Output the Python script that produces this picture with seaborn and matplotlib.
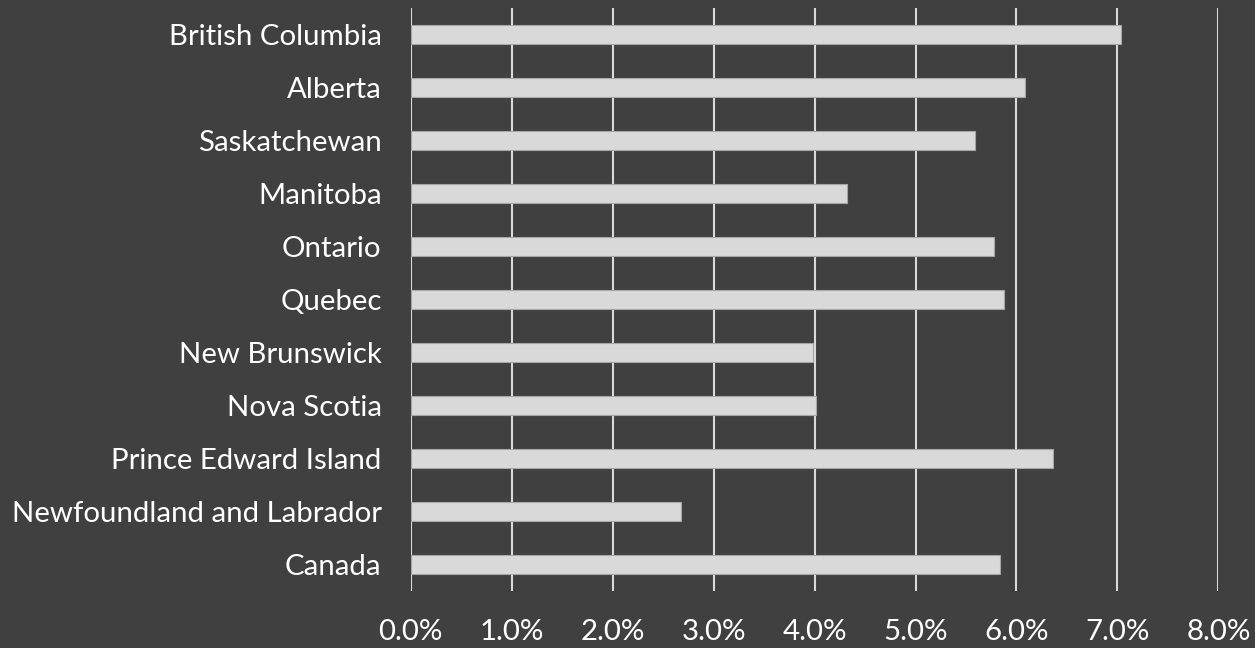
import matplotlib
matplotlib.use("Agg")
import matplotlib.pyplot as plt
import seaborn as sns
import pandas as pd
from matplotlib.ticker import PercentFormatter

provinces = [
    "British Columbia", "Alberta", "Saskatchewan", "Manitoba", "Ontario",
    "Quebec", "New Brunswick", "Nova Scotia", "Prince Edward Island",
    "Newfoundland and Labrador", "Canada",
]
rates = [7.04, 6.08, 5.59, 4.32, 5.78, 5.88, 3.98, 4.01, 6.36, 2.68, 5.84]
x_ticks = [0, 1, 2, 3, 4, 5, 6, 7, 8]

df = pd.DataFrame({"province": provinces, "rate": rates})

bg = "#404040"
bar_color = "#D9D9D9"
text_color = "#FFFFFF"

sns.set_theme(style="dark")
plt.rcParams["font.family"] = ["Lato", "DejaVu Sans"]

fig = plt.figure(figsize=(12.55, 6.48), dpi=100, facecolor=bg)
ax = fig.add_axes([0.3273, 0.088, 0.9708 - 0.3273, 0.9877 - 0.088])
ax.set_facecolor(bg)

sns.barplot(data=df, x="rate", y="province", order=provinces, color=bar_color,
            saturation=1, width=0.345, edgecolor="#A6A6A6", linewidth=0.8,
            ax=ax, zorder=3)

ax.set_xlim(0, 8)
ax.set_ylim(len(provinces) - 0.5, -0.5)
ax.set_xticks(x_ticks)
ax.xaxis.set_major_formatter(PercentFormatter(decimals=1))
ax.grid(axis="x", color="#D9D9D9", linewidth=1.5, zorder=0)
ax.grid(axis="y", visible=False)
ax.set_axisbelow(True)
for s in ax.spines.values():
    s.set_visible(False)
ax.tick_params(axis="both", length=0, colors=text_color, labelsize=21.2)
ax.tick_params(axis="y", pad=21)
ax.tick_params(axis="x", pad=20)
ax.set_xlabel("")
ax.set_ylabel("")

fig.savefig("out.png", dpi=100, facecolor=bg)
